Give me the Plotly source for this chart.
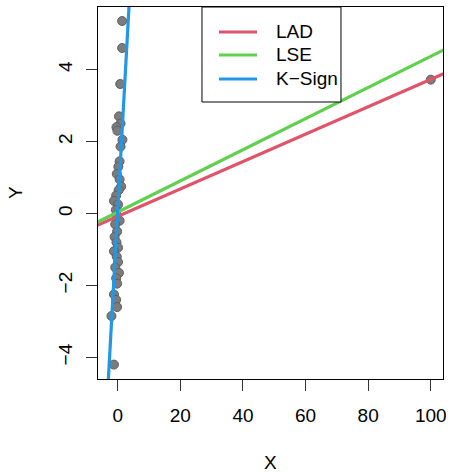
import plotly.graph_objects as go

# ---- data ----
x_pts = [1.4, 1.4, 0.8, 0.4, 0.9, -0.4, -0.1, 1.5, 0.9, 0.6, 0.2, -0.3, 0.6, 1.1,
         0.3, -0.5, -1.2, 0.1, -0.6, -0.2, 0.6, -0.8, -0.2, -1.0, -0.4, 0.1, -1.2,
         -0.3, 0.1, -0.8, 0.4, -0.5, -0.2, -1.2, -0.5, -0.2, -2.0, -1.2, 100.0]
y_pts = [5.35, 4.6, 3.6, 2.7, 2.5, 2.4, 2.3, 2.05, 1.86, 1.45, 1.3, 1.1, 0.95, 0.75,
         0.65, 0.5, 0.35, 0.25, 0.1, -0.05, -0.2, -0.3, -0.5, -0.65, -0.8, -0.95, -1.05,
         -1.2, -1.35, -1.5, -1.65, -1.8, -1.95, -2.25, -2.4, -2.6, -2.85, -4.2, 3.72]

fit_names = ["LAD", "LSE", "K\u2212Sign"]
fit_intercepts = [-0.08, 0.04, 0.09]
fit_slopes = [0.0381, 0.0433, 1.57]
fit_colors = ["#DF536B", "#61D04F", "#2297E6"]

x_ticks = [0, 20, 40, 60, 80, 100]
y_ticks = [-4, -2, 0, 2, 4]

x_range = [-6.3, 103.9]
y_range = [-4.6, 5.74]

FONT = "Liberation Sans, Arial, sans-serif"
FS = 19

fig = go.Figure()
fig.add_trace(go.Scatter(
    x=x_pts, y=y_pts, mode="markers", showlegend=False,
    marker=dict(size=9, color="#7c7c7c", line=dict(color="#5e5e5e", width=1)),
))

for name, a, b, c in zip(fit_names, fit_intercepts, fit_slopes, fit_colors):
    # abline: evaluate over (beyond) the visible x range
    xs = [x_range[0] - 10, x_range[1] + 10]
    ys = [a + b * v for v in xs]
    fig.add_trace(go.Scatter(x=xs, y=ys, mode="lines", name=name, showlegend=False,
                             line=dict(color=c, width=3.2)))

axis_common = dict(
    showgrid=False, zeroline=False, showline=True, linecolor="black", linewidth=1,
    mirror=True, ticks="outside", ticklen=11, tickwidth=1, tickcolor="#333",
    tickfont=dict(family=FONT, size=FS, color="black"), automargin=False,
)

# manual legend (R style), paper coordinates of plot area
shapes = [dict(type="rect", xref="paper", yref="paper", x0=0.3014, x1=0.7043,
               y0=0.7446, y1=1.0, line=dict(color="black", width=1),
               fillcolor="white", layer="above")]
annotations = []
leg_y = [0.9328, 0.8710, 0.8065]
for name, c, yy in zip(fit_names, fit_colors, leg_y):
    shapes.append(dict(type="line", xref="paper", yref="paper", x0=0.3507, x1=0.4609,
                       y0=yy, y1=yy, line=dict(color=c, width=3.2), layer="above"))
    annotations.append(dict(text=name, xref="paper", yref="paper", x=0.5101, y=yy,
                            xanchor="left", yanchor="middle", showarrow=False,
                            font=dict(family=FONT, size=FS, color="black")))

annotations += [
    dict(text="X", xref="paper", yref="paper", x=0.5, y=0, yshift=-83,
         showarrow=False, font=dict(family=FONT, size=FS, color="black"),
         xanchor="center", yanchor="middle"),
    dict(text="Y", xref="paper", yref="paper", x=0, y=0.5, xshift=-83,
         showarrow=False, font=dict(family=FONT, size=FS, color="black"),
         textangle=-90, xanchor="center", yanchor="middle"),
]

fig.update_layout(
    width=450, height=472,
    margin=dict(l=98, r=7, t=7, b=93, autoexpand=False),
    paper_bgcolor="white", plot_bgcolor="white",
    xaxis=dict(range=x_range, tickvals=x_ticks, ticklabelstandoff=8, **axis_common),
    yaxis=dict(range=y_range, tickvals=y_ticks, tickangle=-90, ticklabelstandoff=6,
               **axis_common),
    showlegend=False,
    shapes=shapes,
    annotations=annotations,
)

fig.write_html("out.html",
               config={"displayModeBar": False},
               post_script="document.body.style.margin='0px';"
                           "document.body.style.overflow='hidden';")
